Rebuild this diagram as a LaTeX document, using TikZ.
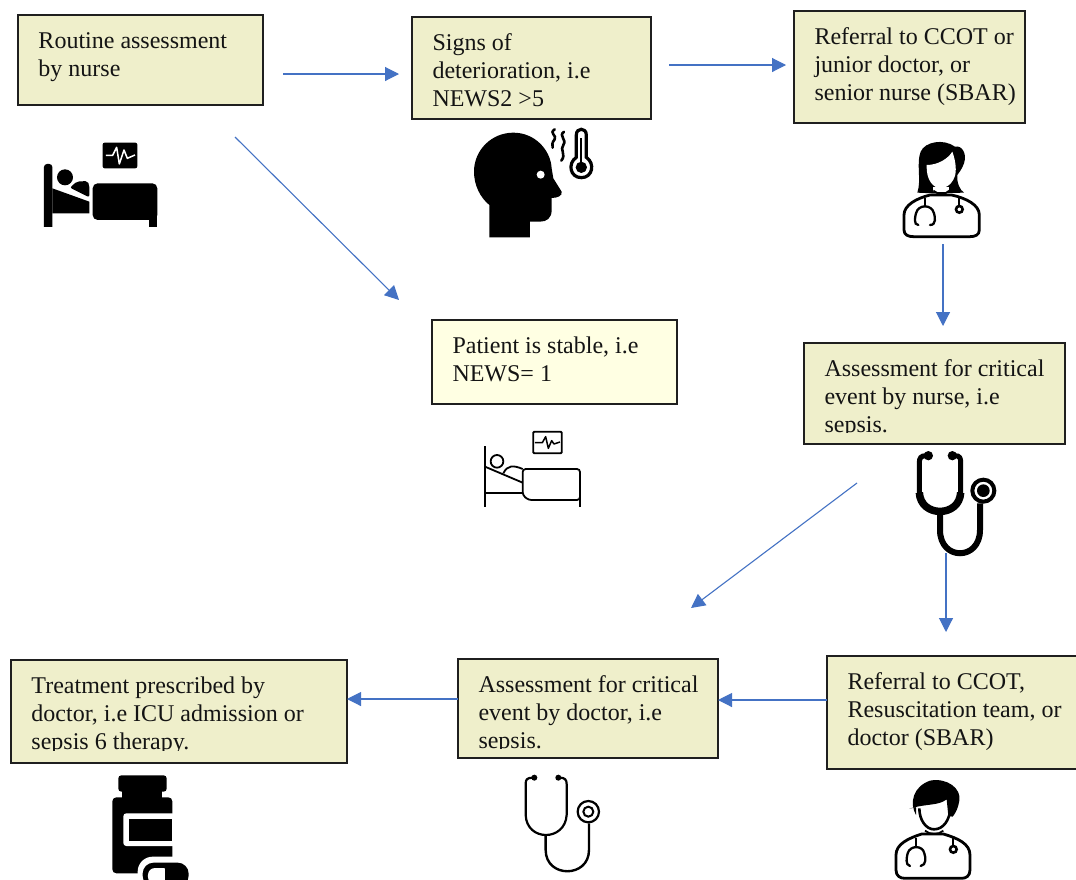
\documentclass[tikz,border=0pt]{standalone}
\usepackage{fontspec}
\setmainfont{Liberation Serif}
\usetikzlibrary{arrows.meta}
\definecolor{boxfill}{HTML}{EFEFCB}
\definecolor{boxlight}{HTML}{FFFFE3}
\definecolor{arrowblue}{HTML}{4472C4}
\newcommand{\boxtext}[4]{\parbox[c][#2pt][t]{#1pt}{\vspace*{#3pt}\leftskip=20.5pt\rightskip=0pt plus 1fil\fontsize{24}{28}\selectfont\strut #4}}
\tikzset{
  flowbox/.style={draw=black!88,line width=2.4pt,fill=boxfill,anchor=north west,inner sep=0pt,outer sep=0pt,text=black!92},
  flowarrow/.style={draw=arrowblue,line width=1.1pt,-{Triangle[length=14pt,width=14pt]}},
  iconscale/.style={shift={(#1)},x=0.3333pt,y=-0.3333pt}
}
\begin{document}
\begin{tikzpicture}[x=1pt,y=-1pt]
\useasboundingbox (0,0) rectangle (1076,879);
\fill[white] (0,0) rectangle (1076,879);
\node[flowbox] (a) at (18,15) {\boxtext{245}{90}{14}{Routine assessment\\by nurse}};
\node[flowbox] (b) at (412,17) {\boxtext{239}{102}{14}{Signs of\\deterioration, i.e\\NEWS2 >5}};
\node[flowbox] (c) at (794,11) {\boxtext{231}{112}{14}{Referral to CCOT or\\junior doctor, or\\senior nurse (SBAR)}};
\node[flowbox,fill=boxlight] (d) at (432,320) {\boxtext{245}{84}{14}{Patient is stable, i.e\\NEWS= 1}};
\node[flowbox] (e) at (804,343) {\boxtext{261}{101}{14}{Assessment for critical\\event by nurse, i.e\\sepsis.}};
\node[flowbox] (f) at (827,656) {\boxtext{260}{113}{14}{Referral to CCOT,\\Resuscitation team, or\\doctor (SBAR)}};
\node[flowbox] (g) at (458,659) {\boxtext{260}{99}{14}{Assessment for critical\\event by doctor, i.e\\sepsis.}};
\node[flowbox] (h) at (11,660) {\boxtext{336}{103}{14}{Treatment prescribed by\\doctor, i.e ICU admission or\\sepsis 6 therapy.}};
% the third line of these boxes is cut off just under its baseline
\fill[boxfill] (820,433) rectangle (1000,442);
\fill[boxfill] (470,749) rectangle (680,757);
\fill[boxfill] (25,751) rectangle (300,761);

\coordinate (a1) at (283,74); \coordinate (a2) at (399,74);
\coordinate (b1) at (669,65); \coordinate (b2) at (786,65);
\coordinate (c1) at (235,137); \coordinate (c2) at (399,300);
\coordinate (d1) at (943,244); \coordinate (d2) at (943,326);
\coordinate (e1) at (857,483); \coordinate (e2) at (691,608);
\coordinate (f1) at (946,553); \coordinate (f2) at (946,632);
\draw[flowarrow] (a1) -- (a2);
\draw[flowarrow] (b1) -- (b2);
\draw[flowarrow] (c1) -- (c2);
\draw[flowarrow] (d1) -- (d2);
\draw[flowarrow] (e1) -- (e2);
\draw[flowarrow] (f1) -- (f2);
\draw[flowarrow] (f.west |- 0,700) -- (g.east |- 0,700);
\draw[flowarrow] (g.west |- 0,699) -- (h.east |- 0,699);

% solid bed
\begin{scope}[iconscale={0,0}]
\fill[rounded corners=3pt] (132,492) -- (157,492) -- (157,690) -- (132,690) -- cycle;
\fill[white] (125,680) rectangle (165,700);
\fill (195,532) circle[radius=24];
\fill[rounded corners=2pt] (210,563) -- (230,545) -- (262,543) -- (268,555) -- (268,592) -- cycle;
\fill (157,565) -- (268,605) -- (268,640) -- (157,640) -- cycle;
\fill[rounded corners=5pt] (278,550) -- (472,550) -- (472,660) -- (278,660) -- cycle;
\fill (448,640) rectangle (472,680);
\fill[rounded corners=2pt] (308,428) rectangle (412,505);
\draw[white,line width=1.5pt,line join=round] (318,466) -- (338,466) -- (350,442) -- (358,492) -- (372,450) -- (382,475) -- (405,465);
\end{scope}

% head with thermometer
\begin{scope}[iconscale={440,110}]
\fill (148,382) -- (148,285) .. controls (120,262) and (102,225) .. (102,185) .. controls (102,120) and (155,68) .. (220,68) .. controls (285,68) and (332,120) .. (335,175) -- (340,205) -- (365,245) .. controls (367,258) and (355,263) .. (335,264) -- (335,300) .. controls (335,325) and (320,335) .. (300,335) -- (270,335) -- (270,382) -- cycle;
\fill[white] (302,194) circle[radius=12];
\draw[line width=2.6pt,line cap=round] (344,58) .. controls (326,70) and (352,76) .. (344,88) .. controls (336,98) and (336,104) .. (338,113);
\draw[line width=2.6pt,line cap=round] (372,65) .. controls (354,78) and (382,88) .. (370,105) .. controls (358,118) and (380,133) .. (364,152);
\draw[line width=3.2pt] (409,142) -- (409,75) .. controls (409,52) and (439,52) .. (439,75) -- (439,142) .. controls (466,160) and (458,203) .. (424,203) .. controls (390,203) and (382,160) .. (409,142) -- cycle;
\fill (424,172) circle[radius=17];
\fill (421,85) rectangle (427,160);
\end{scope}

% female doctor
\begin{scope}[iconscale={880,130}]
\draw[line width=2.8pt,line join=round] (72,300) -- (72,255) .. controls (72,225) and (110,205) .. (150,195) -- (215,195) .. controls (260,205) and (298,225) .. (298,255) -- (298,300) .. controls (298,315) and (285,320) .. (270,320) -- (100,320) .. controls (85,320) and (72,315) .. (72,300) -- cycle;
\fill (112,188) .. controls (125,150) and (108,100) .. (122,65) .. controls (135,35) and (190,25) .. (225,50) .. controls (245,45) and (262,70) .. (252,100) .. controls (245,120) and (235,130) .. (232,135) .. controls (230,160) and (240,180) .. (252,188) -- (160,190) -- cycle;
\fill[white] (140,105) .. controls (175,105) and (205,85) .. (217,65) .. controls (228,95) and (230,125) .. (224,140) .. controls (215,165) and (195,175) .. (183,175) .. controls (160,175) and (138,150) .. (140,105) -- cycle;
\fill[white] (160,170) rectangle (208,186);
\draw[line width=1.8pt] (160,182) .. controls (175,195) and (195,195) .. (208,182);
\draw[line width=2.3pt] (135,205) -- (135,228);
\draw[line width=2.3pt,line cap=round] (115,285) .. controls (100,285) and (105,260) .. (108,250) .. controls (115,222) and (155,222) .. (162,250) .. controls (165,260) and (170,285) .. (150,285);
\draw[line width=2pt] (238,205) -- (238,228);
\draw[line width=2.6pt] (238,238) circle[radius=10];
\end{scope}

% outline bed
\begin{scope}[iconscale={470,420}]
\draw[line width=1.8pt] (45,78) -- (45,262);
\draw[line width=1.8pt] (45,218) -- (158,218);
\draw[line width=1.8pt] (45,140) -- (158,188);
\draw[line width=1.8pt] (81,124) circle[radius=19];
\draw[line width=1.8pt] (100,160) .. controls (112,135) and (130,135) .. (158,147);
\draw[line width=1.8pt,rounded corners=3pt] (158,147) -- (330,147) -- (330,240) -- (175,240) -- (158,225) -- cycle;
\draw[line width=1.8pt] (330,230) -- (330,262);
\draw[line width=1.8pt,rounded corners=1pt] (190,35) rectangle (275,100);
\draw[line width=1.5pt,line join=round] (195,68) -- (217,68) -- (227,50) -- (235,85) -- (245,62) -- (252,72) -- (270,66);
\end{scope}

% solid stethoscope
\begin{scope}[iconscale={900,440}]
\fill (85,47) circle[radius=14];
\fill (157,47) circle[radius=14];
\draw[line width=5pt] (78,47) .. controls (62,47) and (58,55) .. (58,68) -- (58,160);
\draw[line width=5pt] (165,47) .. controls (180,47) and (182,55) .. (182,68) -- (182,160);
\draw[line width=7.5pt] (58,158) .. controls (62,233) and (178,233) .. (182,158);
\draw[line width=6pt] (120,220) -- (120,270) .. controls (120,363) and (240,363) .. (240,270) -- (240,190);
\fill[white,draw=black,line width=4pt] (250,152) circle[radius=33];
\fill (250,152) circle[radius=19];
\end{scope}

% pill bottle
\begin{scope}[iconscale={90,760}]
\fill[rounded corners=3pt] (85,46) -- (230,46) -- (230,95) -- (85,95) -- cycle;
\fill (97,90) rectangle (215,115);
\fill[rounded corners=4pt] (67,112) -- (247,112) -- (247,340) -- (67,340) -- cycle;
\fill[white,rounded corners=3pt] (100,160) -- (260,160) -- (260,258) -- (100,258) -- cycle;
\fill (117,177) rectangle (247,242);
\fill[white,rounded corners=15pt] (143,290) rectangle (330,420);
\begin{scope}
\clip (90,300) rectangle (320,358);
\fill[rounded corners=11pt] (158,308) rectangle (296,380);
\fill[white,rounded corners=7pt] (174,324) -- (240,324) -- (240,372) -- (174,372) -- cycle;
\fill (225,320) rectangle (245,372);
\end{scope}
\end{scope}

% outline stethoscope
\begin{scope}[iconscale={510,760}]
\fill (73,53) circle[radius=9];
\fill (145,53) circle[radius=9];
\draw[line width=2.2pt] (68,53) .. controls (50,53) and (47,60) .. (47,72) -- (47,165) .. controls (50,245) and (165,245) .. (170,165) -- (170,72) .. controls (170,60) and (165,53) .. (150,53);
\draw[line width=2.4pt] (107,225) -- (107,270) .. controls (107,355) and (237,355) .. (237,270) -- (237,190);
\draw[line width=2.2pt] (235,155) circle[radius=32];
\draw[line width=2pt] (235,155) circle[radius=15];
\end{scope}

% male doctor
\begin{scope}[iconscale={880,770}]
\draw[line width=2.8pt,line join=round] (48,300) -- (48,255) .. controls (48,222) and (85,205) .. (125,192) -- (190,192) .. controls (235,205) and (270,222) .. (270,255) -- (270,300) .. controls (270,318) and (258,325) .. (245,325) -- (75,325) .. controls (60,325) and (48,318) .. (48,300) -- cycle;
\draw[line width=2.6pt] (118,115) .. controls (118,150) and (138,178) .. (162,178) .. controls (190,178) and (210,150) .. (212,110);
\fill (108,135) .. controls (88,100) and (98,50) .. (150,32) .. controls (200,22) and (245,55) .. (238,92) .. controls (235,112) and (228,128) .. (218,140) -- (205,138) -- (200,88) .. controls (175,108) and (140,100) .. (88,116) -- (108,112) -- cycle;
\draw[line width=1.8pt] (135,182) .. controls (150,195) and (175,195) .. (190,182);
\draw[line width=2.3pt] (108,205) -- (108,230);
\draw[line width=2.3pt,line cap=round] (90,288) .. controls (75,285) and (80,262) .. (83,250) .. controls (90,225) and (128,225) .. (133,250) .. controls (137,262) and (140,285) .. (122,288);
\draw[line width=2pt] (220,203) -- (220,228);
\draw[line width=2.6pt] (220,238) circle[radius=10];
\end{scope}
\end{tikzpicture}
\end{document}
